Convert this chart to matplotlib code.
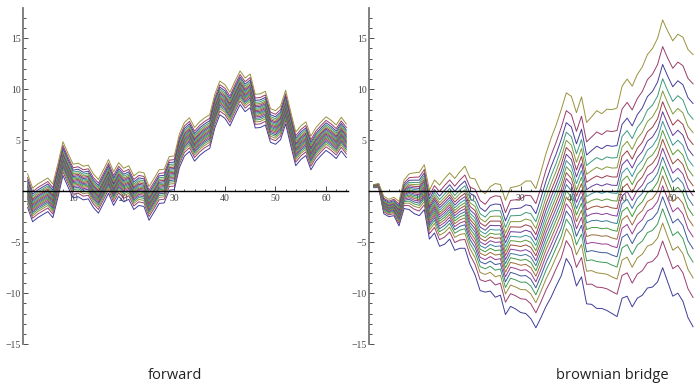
import numpy as np
import matplotlib.pyplot as plt
from matplotlib.colors import hsv_to_rgb
from matplotlib.ticker import MultipleLocator, FixedLocator

# step index (same for both panels)
steps = np.arange(1, 65)

# forward: top (olive) curve; every other curve is a parallel copy below it
forward_top = [1.7, 0.3, 0.7, 1.0, 1.3, 0.7, 2.7, 4.85, 3.7, 2.65,
               2.75, 2.45, 2.55, 1.7, 1.15, 2.1, 3.1, 1.9, 2.8, 2.25,
               2.5, 1.5, 1.9, 1.8, 0.45, 1.25, 2.1, 2.15, 3.4, 3.45,
               5.6, 6.75, 7.2, 6.25, 6.8, 7.2, 7.5, 9.5, 10.8, 10.45,
               9.7, 10.8, 11.8, 11.1, 11.5, 9.5, 9.55, 9.8, 8.1, 7.9,
               8.35, 9.9, 7.8, 5.8, 6.4, 6.8, 5.4, 6.25, 6.8, 7.3,
               6.95, 6.5, 7.25, 6.6]
forward_width = 3.3

# brownian bridge: top (olive) and bottom (blue) curves
bridge_top = [0.65, 0.75, -0.5, -0.8, -0.6, -1.0, 1.1, 1.7, 1.8, 1.85,
              2.6, 0.1, 1.1, 0.6, 1.25, 1.8, 1.25, 1.9, 2.45, 1.3,
              1.2, 0.15, -0.25, 0.45, 0.75, 0.65, -0.9, 0.35, 0.45, 0.6,
              1.0, 1.0, 0.25, 1.9, 3.7, 5.2, 6.5, 8.0, 9.65, 9.3,
              7.7, 9.25, 6.75, 7.3, 7.9, 7.6, 8.05, 8.0, 8.15, 10.3,
              11.0, 10.3, 11.45, 12.2, 13.4, 14.0, 15.0, 16.8, 15.7, 14.75,
              15.4, 15.1, 13.9, 13.4]
bridge_bottom = [0.35, 0.35, -2.2, -2.5, -2.4, -3.4, -1.7, -1.8, -2.2, -2.4,
                 -1.8, -4.7, -4.1, -5.4, -5.2, -4.7, -5.8, -5.6, -5.6, -7.15,
                 -8.2, -9.75, -9.9, -9.8, -10.4, -10.2, -12.1, -11.3, -11.55, -11.9,
                 -12.0, -12.5, -13.4, -12.4, -11.3, -10.4, -9.3, -8.3, -6.6, -7.4,
                 -9.3, -8.4, -11.05, -11.1, -11.5, -11.5, -11.7, -12.0, -12.3, -10.5,
                 -10.3, -11.35, -10.5, -10.2, -9.5, -9.4, -8.9, -7.5, -8.9, -10.3,
                 -10.0, -10.8, -12.4, -13.3]

# relative position of the 20 curves inside the band (normal quantiles k/21)
quantiles = [-1.668, -1.309, -1.068, -0.876, -0.712, -0.566, -0.431, -0.303,
             -0.180, -0.060, 0.060, 0.180, 0.303, 0.431, 0.566, 0.712,
             0.876, 1.068, 1.309, 1.668]

panel_titles = ["forward", "brownian bridge"]
x_ticks = [10, 20, 30, 40, 50, 60]
y_ticks = [-15, -10, -5, 5, 10, 15]

# Mathematica-style default palette
colors = [hsv_to_rgb(((0.67 + 0.236068 * k) % 1.0, 0.6, 0.6))
          for k in range(len(quantiles))]


def draw_band(ax, top, bottom):
    top = np.asarray(top)
    bottom = np.asarray(bottom)
    mid = (top + bottom) / 2
    half = (top - bottom) / 2
    zmax = max(quantiles)
    for q, c in zip(quantiles, colors):
        ax.plot(steps, mid + half * q / zmax, color=c, lw=0.7, zorder=2)


def style_axes(ax):
    ax.set_xlim(0.15, 64.3)
    ax.set_ylim(-15.02, 17.97)
    for s in ["top", "right"]:
        ax.spines[s].set_visible(False)
    ax.spines["bottom"].set_position(("data", 0))
    ax.spines["bottom"].set_color("black")
    ax.spines["bottom"].set_linewidth(1.0)
    ax.spines["left"].set_color("#777777")
    ax.spines["left"].set_linewidth(1.3)
    ax.xaxis.set_major_locator(FixedLocator(x_ticks))
    ax.xaxis.set_minor_locator(MultipleLocator(2))
    ax.yaxis.set_major_locator(FixedLocator(y_ticks))
    ax.yaxis.set_minor_locator(MultipleLocator(1))
    ax.tick_params(which="both", direction="in", colors="#333333",
                   labelsize=7, width=0.6, pad=2)
    ax.tick_params(which="major", length=3.3)
    ax.tick_params(which="minor", length=1.8)
    for lab in ax.get_xticklabels() + ax.get_yticklabels():
        lab.set_family("Liberation Serif")
        lab.set_color("#444444")


fig = plt.figure(figsize=(6.95, 3.88), dpi=100)
ax1 = fig.add_axes([0.0335, 0.1126, 0.467, 0.8668])
ax2 = fig.add_axes([0.5314, 0.1126, 0.468, 0.8668])

draw_band(ax1, forward_top, np.asarray(forward_top) - forward_width)
draw_band(ax2, bridge_top, bridge_bottom)

for ax in (ax1, ax2):
    style_axes(ax)

fig.text(0.252, 0.033, panel_titles[0], ha="center", va="center",
         fontsize=10.5, family="Open Sans", color="#222222")
fig.text(0.881, 0.033, panel_titles[1], ha="center", va="center",
         fontsize=10.5, family="Open Sans", color="#222222")

fig.savefig("out.png", dpi=100)
